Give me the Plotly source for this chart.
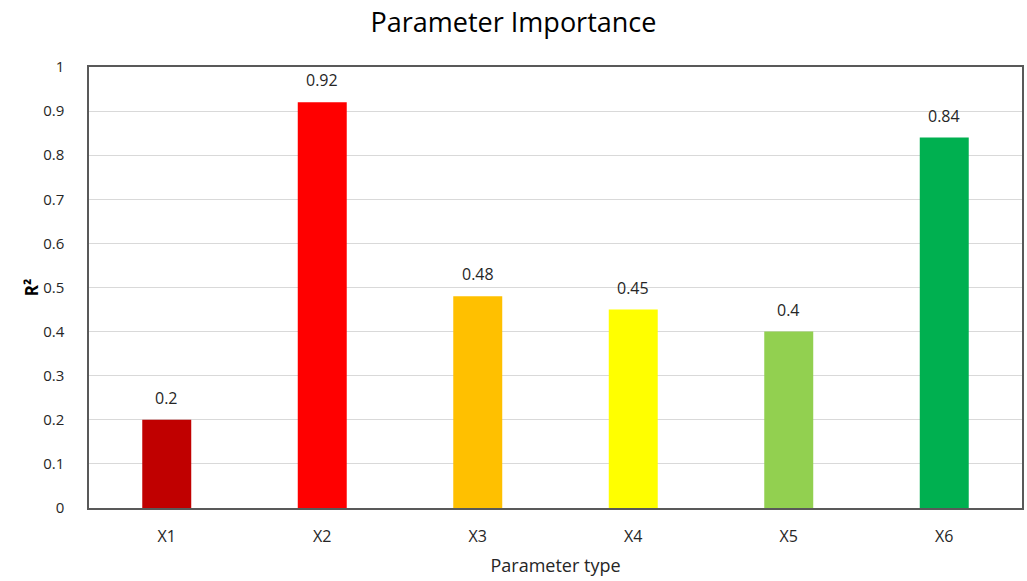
import plotly.graph_objects as go

categories = ["X1", "X2", "X3", "X4", "X5", "X6"]
r2_values = [0.2, 0.92, 0.48, 0.45, 0.4, 0.84]
bar_colors = ["#C00000", "#FF0000", "#FFC000", "#FFFF00", "#92D050", "#00B050"]
y_ticks = [0, 0.1, 0.2, 0.3, 0.4, 0.5, 0.6, 0.7, 0.8, 0.9, 1]
y_tick_text = ["0", "0.1", "0.2", "0.3", "0.4", "0.5", "0.6", "0.7", "0.8", "0.9", "1"]

FONT = "'Open Sans', sans-serif"

fig = go.Figure(
    go.Bar(
        x=categories,
        y=r2_values,
        marker=dict(color=bar_colors, line=dict(width=0)),
        width=0.315,
        hoverinfo="x+y",
    )
)

# value labels above each bar
for cat, val in zip(categories, r2_values):
    fig.add_annotation(
        x=cat, y=val, text=f"{val:g}", showarrow=False,
        yanchor="bottom", yshift=9,
        font=dict(family=FONT, size=16, color="#262626"),
    )

fig.update_layout(
    width=1027, height=581,
    margin=dict(l=89, r=3, t=67, b=73),
    paper_bgcolor="white", plot_bgcolor="white",
    title=dict(text="Parameter Importance", x=0.5, xanchor="center",
               y=0.962, yanchor="middle",
               font=dict(family=FONT, size=27, color="#000000")),
    showlegend=False,
)

fig.update_xaxes(
    showline=True, mirror=True, linecolor="#595959", linewidth=1.5,
    ticks="", ticklabelstandoff=13,
    tickfont=dict(family=FONT, size=16, color="#262626"),
    title=dict(text="Parameter type", standoff=13,
               font=dict(family=FONT, size=18, color="#262626")),
)
fig.update_yaxes(
    range=[0, 1], tickvals=y_ticks, ticktext=y_tick_text,
    showline=True, mirror=True, linecolor="#595959", linewidth=1.5,
    showgrid=True, gridcolor="#D9D9D9", gridwidth=1,
    zeroline=False, ticks="", ticklabelstandoff=20,
    tickfont=dict(family=FONT, size=15, color="#262626"),
    title=dict(text="<b>R²</b>", standoff=0,
               font=dict(family=FONT, size=17, color="#000000")),
)

fig.write_html("out.html")
